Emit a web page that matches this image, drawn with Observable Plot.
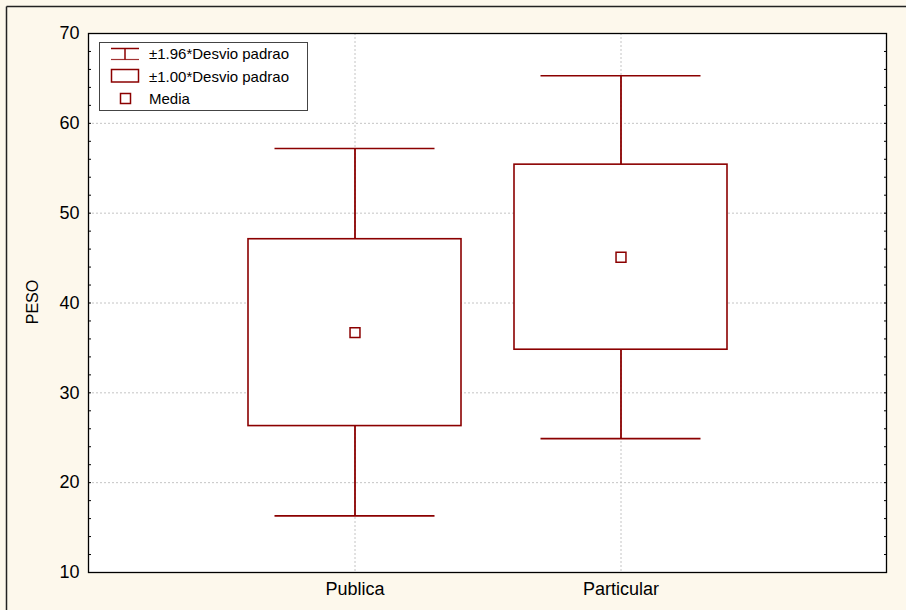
<!DOCTYPE html>
<html><head><meta charset="utf-8">
<script src="https://cdn.jsdelivr.net/npm/d3@7"></script>
<script src="https://cdn.jsdelivr.net/npm/@observablehq/plot@0.6"></script>
<style>
body{margin:0;background:#fdf8ec;}
#chart{position:relative;width:906px;height:610px;}
</style>
</head><body><div id="chart"></div>
<script>
const categories = ["Publica", "Particular"];
const means = [36.7, 45.1];
const boxLow = [26.3, 34.8];
const boxHigh = [47.1, 55.4];
const whiskerLow = [16.3, 24.9];
const whiskerHigh = [57.2, 65.3];
const yTicks = [10, 20, 30, 40, 50, 60, 70];
const yMinorTicks = [10,12,14,16,18,20,22,24,26,28,30,32,34,36,38,40,42,44,46,48,50,52,54,56,58,60,62,64,66,68,70];
const gridValues = [20, 30, 40, 50, 60];
const legendLabels = ["±1.96*Desvio padrao", "±1.00*Desvio padrao", "Media"];
const yLabel = "PESO";

const data = categories.map((c, i) => ({
  cat: c, mean: means[i], lo: boxLow[i], hi: boxHigh[i], wlo: whiskerLow[i], whi: whiskerHigh[i]
}));
const red = "#8b0000";
const gridColor = "#c4c4c4";
const font = "Arial, 'Liberation Sans', sans-serif";

const plot = Plot.plot({
  width: 906, height: 610,
  marginTop: 33, marginLeft: 88, marginRight: 20, marginBottom: 38,
  style: {background: "#fdf8ec", fontFamily: font, color: "#000"},
  x: {type: "band", domain: categories, paddingInner: 0.2, paddingOuter: 0.6},
  y: {domain: [10, 70]},
  marks: [
    Plot.frame({fill: "white", stroke: null}),
    Plot.gridY(gridValues, {stroke: gridColor, strokeOpacity: 1, strokeDasharray: "2,2"}),
    Plot.ruleX(categories, {stroke: gridColor, strokeOpacity: 1, strokeDasharray: "2,2"}),
    Plot.ruleX(data, {x: "cat", y1: "wlo", y2: "whi", stroke: red, strokeWidth: 1.8}),
    Plot.barY(data, {x: "cat", y1: "lo", y2: "hi", fill: "white", stroke: red, strokeWidth: 1.6}),
    Plot.tickY(data, {x: "cat", y: "whi", stroke: red, strokeWidth: 1.6, insetLeft: 26.5, insetRight: 26.5}),
    Plot.tickY(data, {x: "cat", y: "wlo", stroke: red, strokeWidth: 1.6, insetLeft: 26.5, insetRight: 26.5}),
    Plot.dot(data, {x: "cat", y: "mean", symbol: "square", r: 5.6, fill: "white", stroke: red, strokeWidth: 1.5}),
    Plot.axisY(yMinorTicks, {anchor: "left", tickSize: 3, dx: 3, fill: "none", label: null, stroke: "#000"}),
    Plot.axisY(yMinorTicks, {anchor: "right", tickSize: 3, dx: -3, fill: "none", label: null, stroke: "#000"}),
    Plot.axisY(yTicks, {anchor: "left", tickSize: 0, tickPadding: 9, fontSize: 18, label: null}),
    Plot.axisX({tickSize: 0, tickPadding: 10, fontSize: 18, label: null}),
    Plot.frame({stroke: "#000", strokeWidth: 1.3})
  ]
});

document.getElementById("chart").appendChild(plot);

const svg = d3.select(plot);
// outer border (left & top edges visible)
svg.append("line").attr("x1", 6.5).attr("x2", 6.5).attr("y1", 6.5).attr("y2", 610).attr("stroke", "#222").attr("stroke-width", 1.5);
svg.append("line").attr("x1", 6.5).attr("x2", 906).attr("y1", 6.5).attr("y2", 6.5).attr("stroke", "#222").attr("stroke-width", 1.5);

// y axis title
svg.append("text").attr("transform", "translate(32,302) rotate(-90)")
  .attr("text-anchor", "middle").attr("dy", "0.35em")
  .style("font-family", font).style("font-size", "16px").attr("fill", "#000").text(yLabel);

// legend
const lg = svg.append("g").style("font-family", font).style("font-size", "15px").attr("text-anchor", "start");
lg.append("rect").attr("x", 99.5).attr("y", 42.5).attr("width", 208).attr("height", 68)
  .attr("fill", "white").attr("stroke", "#444").attr("stroke-width", 1);
const rowsY = [54, 76.5, 98.5];
// error bar icon
lg.append("line").attr("x1", 111).attr("x2", 139).attr("y1", 48.5).attr("y2", 48.5).attr("stroke", red).attr("stroke-width", 1.5);
lg.append("line").attr("x1", 111).attr("x2", 139).attr("y1", 59.5).attr("y2", 59.5).attr("stroke", red).attr("stroke-width", 1.2).attr("stroke-opacity", 0.8);
lg.append("line").attr("x1", 125).attr("x2", 125).attr("y1", 48.5).attr("y2", 59.5).attr("stroke", red).attr("stroke-width", 1.5);
// box icon
lg.append("rect").attr("x", 111.5).attr("y", 69.5).attr("width", 27).attr("height", 12.5).attr("fill", "white").attr("stroke", red).attr("stroke-width", 1.5);
// mean icon
lg.append("rect").attr("x", 120.5).attr("y", 93.5).attr("width", 10).attr("height", 10).attr("fill", "white").attr("stroke", red).attr("stroke-width", 1.5);
legendLabels.forEach((t, i) => {
  lg.append("text").attr("x", 149).attr("y", rowsY[i]).attr("dy", "0.35em")
    .attr("text-anchor", "start").attr("fill", "#000").text(t);
});
</script>
</body></html>
